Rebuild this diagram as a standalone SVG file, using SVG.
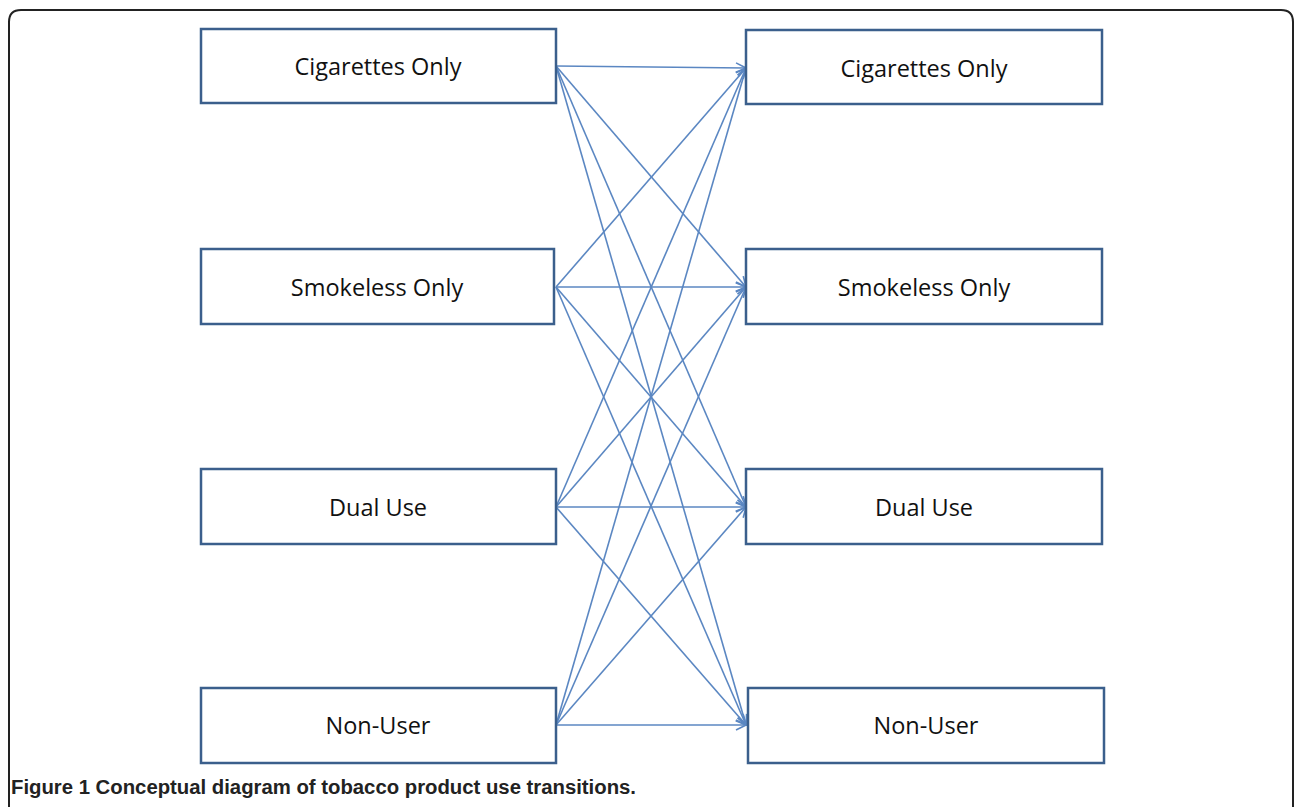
<svg xmlns="http://www.w3.org/2000/svg" width="1296" height="807" viewBox="0 0 1296 807">
<style>
.box{fill:#fff;stroke:#3B5F8C;stroke-width:2.5}
.lbl{font-family:"Open Sans","Liberation Sans",sans-serif;font-size:23.5px;fill:#111;text-anchor:middle;dominant-baseline:central}
.c{stroke:#5B87C2;stroke-width:1.6;fill:none;marker-end:url(#ah)}
.cap{font-family:"Liberation Sans",sans-serif;font-size:20px;font-weight:bold;fill:#222}
</style>
<defs>
<marker id="ah" viewBox="0 0 12 12" refX="11" refY="6" markerWidth="12" markerHeight="12" markerUnits="userSpaceOnUse" orient="auto">
<path d="M1,1 L11,6 L1,11" fill="none" stroke="#5B87C2" stroke-width="1.6"/>
</marker>
</defs>
<rect width="1296" height="807" fill="#fff"/>
<path d="M9,807 L9,22 Q9,10 21,10 L1281,10 Q1293,10 1293,22 L1293,807" fill="none" stroke="#222" stroke-width="2"/>
<g id="connectors">
<line class="c" x1="556" y1="66" x2="746" y2="68"/>
<line class="c" x1="556" y1="66" x2="746" y2="287"/>
<line class="c" x1="556" y1="66" x2="746" y2="507"/>
<line class="c" x1="556" y1="66" x2="746" y2="725"/>
<line class="c" x1="556" y1="287" x2="746" y2="68"/>
<line class="c" x1="556" y1="287" x2="746" y2="287"/>
<line class="c" x1="556" y1="287" x2="746" y2="507"/>
<line class="c" x1="556" y1="287" x2="746" y2="725"/>
<line class="c" x1="556" y1="507" x2="746" y2="68"/>
<line class="c" x1="556" y1="507" x2="746" y2="287"/>
<line class="c" x1="556" y1="507" x2="746" y2="507"/>
<line class="c" x1="556" y1="507" x2="746" y2="725"/>
<line class="c" x1="556" y1="725" x2="746" y2="68"/>
<line class="c" x1="556" y1="725" x2="746" y2="287"/>
<line class="c" x1="556" y1="725" x2="746" y2="507"/>
<line class="c" x1="556" y1="725" x2="746" y2="725"/>
</g>
<g id="L1"><rect class="box" x="201" y="29" width="355" height="74"/><text class="lbl" x="378" y="66">Cigarettes Only</text></g>
<g id="L2"><rect class="box" x="201" y="249" width="353" height="75"/><text class="lbl" x="377" y="287">Smokeless Only</text></g>
<g id="L3"><rect class="box" x="201" y="469" width="355" height="75"/><text class="lbl" x="378" y="507">Dual Use</text></g>
<g id="L4"><rect class="box" x="201" y="688" width="355" height="75"/><text class="lbl" x="378" y="725">Non-User</text></g>
<g id="R1"><rect class="box" x="746" y="30" width="356" height="74"/><text class="lbl" x="924" y="68">Cigarettes Only</text></g>
<g id="R2"><rect class="box" x="746" y="249" width="356" height="75"/><text class="lbl" x="924" y="287">Smokeless Only</text></g>
<g id="R3"><rect class="box" x="746" y="469" width="356" height="75"/><text class="lbl" x="924" y="507">Dual Use</text></g>
<g id="R4"><rect class="box" x="748" y="688" width="356" height="75"/><text class="lbl" x="926" y="725">Non-User</text></g>
<text class="cap" x="11" y="794" textLength="625" lengthAdjust="spacingAndGlyphs">Figure 1 Conceptual diagram of tobacco product use transitions.</text>
</svg>
